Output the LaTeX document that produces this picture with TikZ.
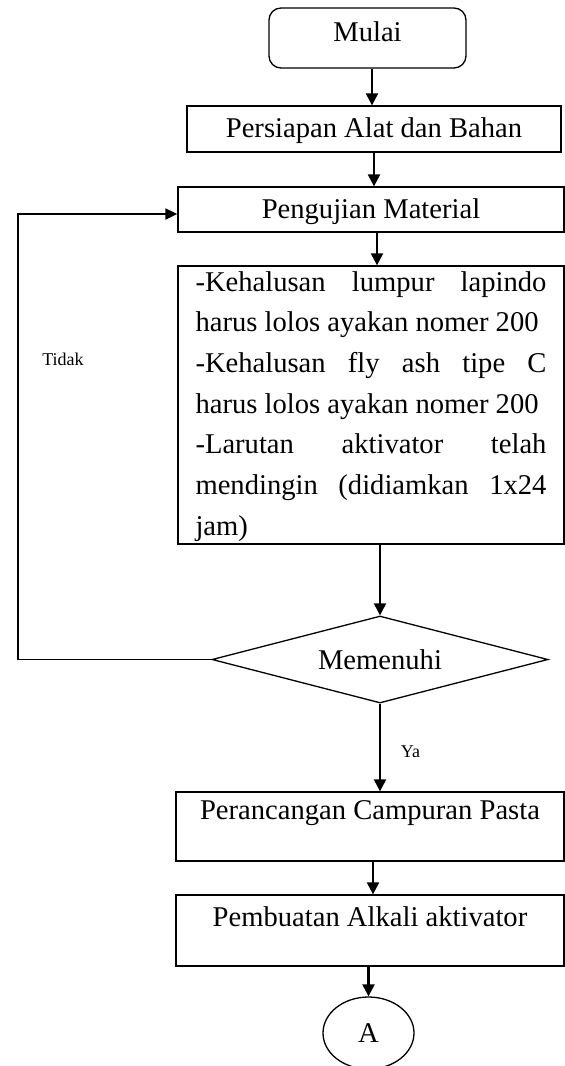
\documentclass[tikz,border=0pt]{standalone}
\usepackage{fontspec}
\setmainfont{Liberation Serif}
\usetikzlibrary{arrows.meta,shapes.geometric}
\tikzset{
  boxline/.style={draw, line width=0.65pt, inner xsep=0pt, inner ysep=0pt, font=\fontsize{14.3}{17}\selectfont},
  procbox/.style={boxline, rectangle},
  arr/.style={line width=1.1pt, -{Triangle[length=6pt,width=6pt]}},
  lbl/.style={font=\fontsize{9}{11}\selectfont, inner sep=0pt}
}
\begin{document}
\begin{tikzpicture}[x=0.5pt,y=-0.5pt]
\fill[white] (0,0) rectangle (565,1066);
\useasboundingbox (0,0) rectangle (565,1066);

\node[procbox, rounded corners=6pt, minimum width=98.5pt, minimum height=30pt,
      text height=16.5pt, text depth=13.5pt] (mulai) at (367.5,38) {Mulai};
\node[procbox, minimum width=187pt, minimum height=23pt,
      text height=15.5pt, text depth=7.5pt] (persiapan) at (374,129) {Persiapan Alat dan Bahan};
\node[procbox, minimum width=193pt, minimum height=22.5pt,
      text height=15.5pt, text depth=7pt] (peng) at (371,209.5) {Pengujian Material};
\node[procbox, minimum width=193pt, minimum height=139pt] (bigbox) at (371,405)
  {\parbox[c][139pt][t]{175.5pt}{\fontsize{14.3}{20.35}\selectfont
   \hbox to\linewidth{\rule{0pt}{12.5pt}-Kehalusan\hfill lumpur\hfill lapindo}
   \hbox to\linewidth{harus lolos ayakan nomer 200\hfill}
   \hbox to\linewidth{-Kehalusan\hfill fly\hfill ash\hfill tipe\hfill C}
   \hbox to\linewidth{harus lolos ayakan nomer 200\hfill}
   \hbox to\linewidth{-Larutan\hfill aktivator\hfill telah}
   \hbox to\linewidth{mendingin\hfill (didiamkan\hfill 1x24}
   \hbox to\linewidth{jam)\hfill}}};
\node[boxline, diamond, aspect=3.86, minimum width=168pt, minimum height=43.5pt] (dia) at (380,659.5) {Memenuhi};
\node[procbox, minimum width=194pt, minimum height=34.5pt,
      text height=13.5pt, text depth=21pt] (per) at (370,826.5) {Perancangan Campuran Pasta};
\node[procbox, minimum width=194pt, minimum height=35.5pt,
      text height=15.5pt, text depth=20pt] (pemb) at (370,930.5) {Pembuatan Alkali aktivator};
\node[boxline, ellipse, minimum width=45.5pt, minimum height=36pt] (circ) at (368.5,1033) {A};

\coordinate (fbc) at (18,214);

\draw[arr] ([xshift=2.25pt]mulai.south) -- ([xshift=2.25pt]mulai.south |- persiapan.north);
\draw[arr] (persiapan.south) -- (persiapan.south |- peng.north);
\draw[arr] ([xshift=3pt]peng.south) -- ([xshift=3pt]peng.south |- bigbox.north);
\draw[arr] (dia.north |- bigbox.south) -- (dia.north);
\draw[arr] (dia.south) -- (dia.south |- per.north);
\draw[arr] ([xshift=1.5pt]per.south) -- ([xshift=1.5pt]per.south |- pemb.north);
\draw[arr] (pemb.south -| circ.north) -- (circ.north);
\draw[line width=0.9pt, -{Triangle[length=6pt,width=5.5pt]}] (dia.west) -| (fbc) -- (fbc -| peng.west);

\node[lbl] (tidak) at (63,359) {Tidak};
\node[lbl] (ya) at (410.5,752) {Ya};
\end{tikzpicture}
\end{document}
